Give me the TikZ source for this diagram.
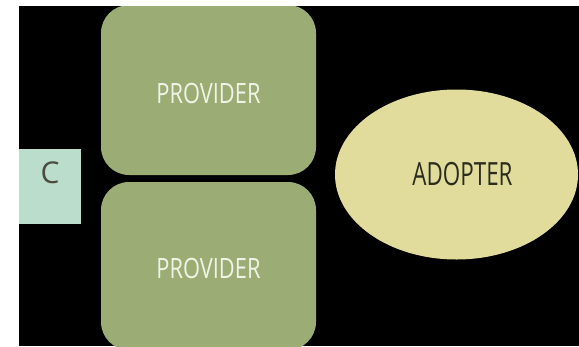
\documentclass[tikz,border=0pt]{standalone}
\usepackage{fontspec}
\setmainfont{Open Sans}
\newfontfamily\provfont[FakeStretch=0.78]{Open Sans}
\newfontfamily\adoptfont[FakeStretch=0.70]{Open Sans}
\usetikzlibrary{shapes.geometric}
\definecolor{provgreen}{HTML}{9BAD74}
\definecolor{adoptyellow}{HTML}{E1DC9C}
\definecolor{cmint}{HTML}{BBDDCB}
\definecolor{provtext}{HTML}{F0F3E6}
\definecolor{darktext}{HTML}{2B2B1E}
\tikzset{
  provider/.style={rectangle, rounded corners=28pt, fill=provgreen, minimum width=215pt, inner sep=0pt,
    text=provtext, font=\provfont\fontsize{28}{28}\selectfont, text depth=0pt},
  adopter/.style={ellipse, fill=adoptyellow, minimum width=243pt, minimum height=170pt, inner sep=0pt,
    text=darktext, font=\adoptfont\fontsize{32}{32}\selectfont},
  cbox/.style={rectangle, fill=cmint, minimum width=62pt, minimum height=75pt, inner sep=0pt,
    text=darktext!85, font=\fontsize{30}{30}\selectfont, text depth=27pt}
}
\begin{document}
\begin{tikzpicture}[x=1pt,y=-1pt]
\useasboundingbox (0,0) rectangle (579,346);
\fill[black] (19,6) rectangle (579,346);
\begin{scope}
\clip (19,6) rectangle (579,346);
\node[provider, minimum height=170pt, text height=26pt] (p1) at (208.5,90) {PROVIDER};
\node[provider, minimum height=168pt, text height=24pt] (p2) at (208.5,266) {PROVIDER};
\node[adopter] (a) at (456.5,174.5) {\hspace{12pt}ADOPTER};
\node[cbox] (c) at (50,186.5) {C};
\end{scope}
\end{tikzpicture}
\end{document}
